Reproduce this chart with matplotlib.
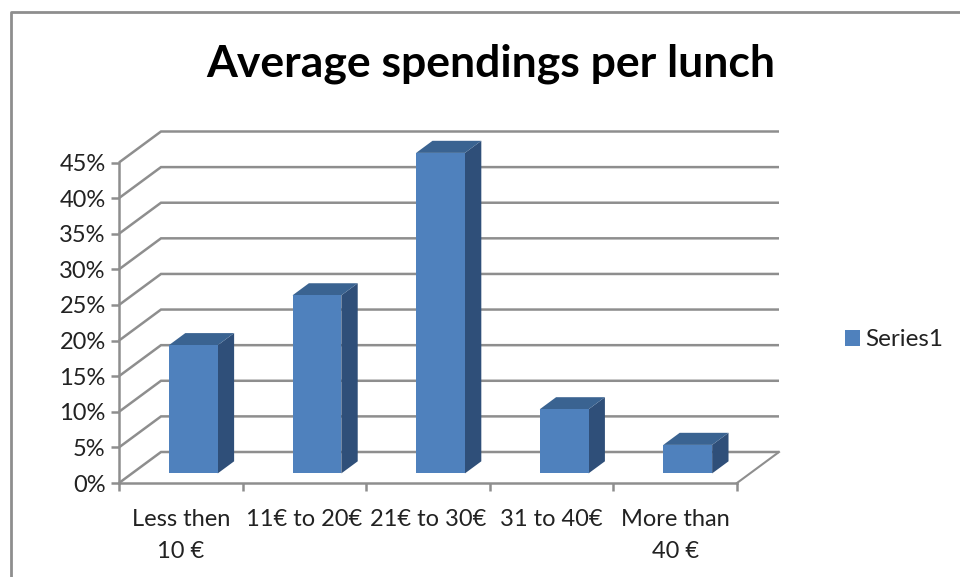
import numpy as np
import matplotlib.pyplot as plt
from matplotlib.lines import Line2D
from matplotlib.patches import Polygon

plt.rcParams['font.family'] = ['Lato', 'DejaVu Sans']

#Datos
categorias = ['Less then\n10 €', '11€ to 20€', '21€ to 30€', '31 to 40€', 'More than\n40 €']
valores = [18, 25, 45, 9, 4]
marcas = [0, 5, 10, 15, 20, 25, 30, 35, 40, 45]
titulo = 'Average spendings per lunch'
serie = 'Series1'

#Colores
frente = '#4F81BD'
arriba = '#3A6391'
lado = '#2F4F79'
gris = '#8E8E8E'

W, H = 960, 577
fig = plt.figure(figsize = (W/100, H/100), dpi = 100)
ax = fig.add_axes([119/W, 1 - 483/H, (737-119)/W, (483-162.5)/H])
ax.set_xlim(0, len(categorias))
ax.set_ylim(0, 45)
ax.patch.set_alpha(0)

#Profundidad del piso en unidades de datos
px_x = len(categorias)/(737-119)
px_y = 45/(483-162.5)
dx = 42*px_x
dy = 31*px_y

def pr(x, y, d):
    return x + d*dx, y + d*dy

#Paredes y rejilla
for m in marcas:
    x0, y0 = pr(0, m, 1)
    x1, y1 = pr(len(categorias), m, 1)
    ax.plot([0, x0, x1], [m, y0, y1], color = gris, lw = 1.8, clip_on = False, zorder = 1, solid_joinstyle = 'miter', solid_capstyle = 'butt')
ax.plot([len(categorias), pr(len(categorias), 0, 1)[0]], [0, pr(len(categorias), 0, 1)[1]], color = gris, lw = 1.5, clip_on = False, zorder = 1)

#Barras
d0, d1 = 0.31, 0.70
ancho = 0.395
for i, v in enumerate(valores):
    c = i + 0.5 + d0*dx - 0.004
    izq, der = c - ancho/2, c + ancho/2
    b = d0*dy
    ax.add_patch(Polygon([(der, b), (der, b + v), (der + (d1-d0)*dx, b + v + (d1-d0)*dy), (der + (d1-d0)*dx, b + (d1-d0)*dy)],
                         fc = lado, ec = 'none', clip_on = False, zorder = 3))
    ax.add_patch(Polygon([(izq, b + v), (der, b + v), (der + (d1-d0)*dx, b + v + (d1-d0)*dy), (izq + (d1-d0)*dx, b + v + (d1-d0)*dy)],
                         fc = arriba, ec = 'none', clip_on = False, zorder = 3))
barras = ax.bar(np.arange(len(valores)) + 0.5 + d0*dx - 0.004, valores, width = ancho, bottom = d0*dy, color = frente, clip_on = False, zorder = 4, label = serie)

#Ejes
for s in ['top', 'right']:
    ax.spines[s].set_visible(False)
for s in ['left', 'bottom']:
    ax.spines[s].set_color(gris)
    ax.spines[s].set_linewidth(1.8)
    ax.spines[s].set_zorder(2)
ax.set_yticks(marcas)
ax.set_yticklabels([str(m) + '%' for m in marcas])
ax.set_xticks(range(len(categorias) + 1))
ax.set_xticklabels([])
ax.set_xticks(np.arange(len(categorias)) + 0.5, minor = True)
ax.set_xticklabels(categorias, minor = True, linespacing = 1.62)
ax.tick_params(axis = 'both', which = 'major', color = gris, width = 1.8, length = 6)
ax.tick_params(axis = 'x', which = 'minor', length = 0, pad = 19, labelsize = 17, labelcolor = '#222222')
ax.tick_params(axis = 'y', pad = 3.5, labelsize = 17, labelcolor = '#222222')

#Título y leyenda
fig.text(490.5/W, 1 - 64/H, titulo, fontsize = 32, fontweight = 'bold', ha = 'center', va = 'center', color = 'black')
ax.legend(handles = [barras], loc = 'center left', bbox_to_anchor = (838/W, 1 - 340/H), bbox_transform = fig.transFigure,
          frameon = False, fontsize = 17.5, labelcolor = '#222222', handlelength = 0.62, handleheight = 0.62, handletextpad = 0.2,
          borderpad = 0, borderaxespad = 0.3)

#Marco del gráfico
fig.add_artist(Line2D([10.5/W, 10.5/W, 1], [0, 1 - 11.5/H, 1 - 11.5/H], color = gris, lw = 2))

fig.savefig('out.png', dpi = 100)
